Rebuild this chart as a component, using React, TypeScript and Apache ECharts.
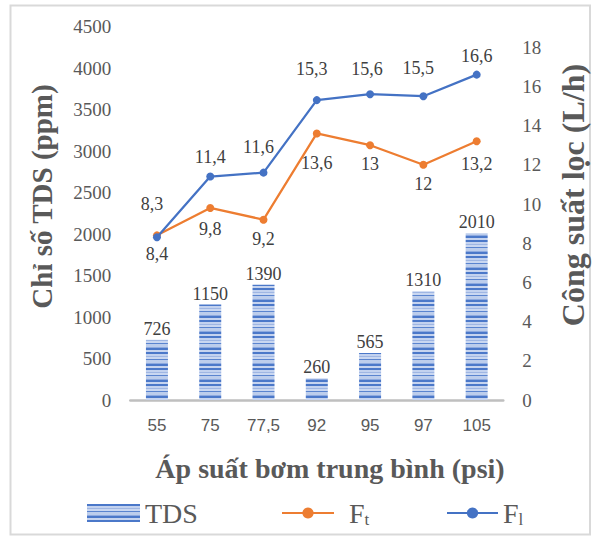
import React, { useEffect, useRef } from "react";
import * as echarts from "echarts";

// ---- data ----
const categories = ["55", "75", "77,5", "92", "95", "97", "105"];
const tdsValues = [726, 1150, 1390, 260, 565, 1310, 2010];
const ftValues = [8.4, 9.8, 9.2, 13.6, 13, 12, 13.2];
const flValues = [8.3, 11.4, 11.6, 15.3, 15.6, 15.5, 16.6];
const leftAxisTicks = { min: 0, max: 4500, interval: 500 };
const rightAxisTicks = { min: 0, max: 18, interval: 2 };
const seriesNames = ["TDS", "Ft", "Fl"];

// ---- style-only tweaks (label nudges, like the reference) ----
const flLabelNudge = [[-5, -14], [0, -1], [-5, -7], [-5, -12], [-3, -6], [-5, -9], [0, 0]];
const ftLabelNudge = [[0, 0], [0, 2], [0, 0], [0, 11], [0, 0], [0, 0], [0, 4]];

const SERIF = "Liberation Serif";
const SANS = "Liberation Sans";
const GREY = "#595959";
const LABEL = "#404040";
const BLUE = "#4472C4";
const ORANGE = "#ED7D31";

const fmt = (v: number) => String(v).replace(".", ",");

// striped texture for the bars (global vertical gradient with hard edges)
function stripeFill() {
  const cycle: [string, number][] = [
    ["#4b78c9", 2], ["#c3d2ef", 2], ["#9fb6e3", 1], ["#c9d7f1", 2],
    ["#5a84cf", 1], ["#bccdec", 3], ["#8eaadf", 1], ["#4b78c9", 2], ["#c6d4ef", 2],
  ];
  const H = 540;
  const stops: { offset: number; color: string }[] = [];
  let y = 0;
  let i = 0;
  while (y < H) {
    const [c, h] = cycle[i % cycle.length];
    const y2 = Math.min(H, y + h);
    stops.push({ offset: y / H, color: c });
    stops.push({ offset: y2 / H, color: c });
    y = y2;
    i++;
  }
  return new echarts.graphic.LinearGradient(0, 0, 0, H, stops, true);
}

export default function App() {
  const ref = useRef<HTMLDivElement>(null);

  useEffect(() => {
    if (!ref.current) return;
    const chart = echarts.init(ref.current, undefined, { renderer: "svg" });

    const gridTop = 26.5;
    const gridBottomY = 400;
    const pxPerRightUnit = 19.6;
    const rightMax = (gridBottomY - gridTop) / pxPerRightUnit;

    const legendText = {
      fontFamily: SERIF,
      fontSize: 28,
      color: GREY,
      lineHeight: 30,
      rich: {
        n: { fontFamily: SERIF, fontSize: 28, color: GREY, lineHeight: 30 },
        s: { fontFamily: SERIF, fontSize: 17, color: GREY, lineHeight: 16, verticalAlign: "bottom" },
        g: { width: 10, fontFamily: SERIF, fontSize: 28, lineHeight: 30 },
      },
    };

    chart.setOption({
      animation: false,
      backgroundColor: "#ffffff",
      textStyle: { fontFamily: SERIF },
      grid: { left: 130.3, right: 93.7, top: gridTop, bottom: 540 - gridBottomY, containLabel: false },
      xAxis: {
        type: "category",
        data: categories,
        axisTick: { show: false },
        axisLine: { lineStyle: { color: "#bfbfbf", width: 2.5 } },
        axisLabel: { color: GREY, fontFamily: SANS, fontSize: 17, margin: 17 },
      },
      yAxis: [
        {
          type: "value",
          min: leftAxisTicks.min,
          max: leftAxisTicks.max,
          interval: leftAxisTicks.interval,
          axisLine: { show: false },
          axisTick: { show: false },
          splitLine: { show: false },
          axisLabel: {
            color: GREY,
            fontFamily: SERIF,
            fontSize: 19,
            margin: 19,
            formatter: (v: number) => String(v),
          },
        },
        {
          type: "value",
          position: "right",
          min: rightAxisTicks.min,
          max: rightMax,
          interval: rightAxisTicks.interval,
          axisLine: { show: false },
          axisTick: { show: false },
          splitLine: { show: false },
          axisLabel: {
            color: GREY,
            fontFamily: SERIF,
            fontSize: 19,
            margin: 19,
            showMaxLabel: false,
            formatter: (v: number) =>
              v <= rightAxisTicks.max + 1e-6 &&
              Math.abs(v / rightAxisTicks.interval - Math.round(v / rightAxisTicks.interval)) < 1e-6
                ? String(Math.round(v))
                : "",
          },
        },
      ],
      legend: [
        {
          data: [{ name: seriesNames[0], icon: "rect", textStyle: legendText }],
          left: 87,
          top: 498,
          padding: 0,
          itemWidth: 53,
          itemHeight: 18,
          formatter: () => "{n|TDS}",
          textStyle: legendText,
        },
        {
          data: [{ name: seriesNames[1], textStyle: legendText }],
          left: 281,
          top: 498,
          padding: 0,
          itemWidth: 52,
          itemHeight: 14,
          formatter: () => "{g| }{n|F}{s|t}",
          textStyle: legendText,
        },
        {
          data: [{ name: seriesNames[2], textStyle: legendText }],
          left: 446,
          top: 498,
          padding: 0,
          itemWidth: 51,
          itemHeight: 14,
          formatter: () => "{n|F}{s|l}",
          textStyle: legendText,
        },
      ],
      series: [
        {
          name: seriesNames[0],
          type: "bar",
          yAxisIndex: 0,
          data: tdsValues,
          barWidth: 22,
          itemStyle: { color: stripeFill() },
          label: {
            show: true,
            position: "top",
            distance: 2,
            color: LABEL,
            fontFamily: SERIF,
            fontSize: 18,
          },
          z: 2,
        },
        {
          name: seriesNames[1],
          type: "line",
          yAxisIndex: 1,
          data: ftValues.map((v, i) => ({
            value: v,
            label: { offset: ftLabelNudge[i] },
          })),
          symbol: "circle",
          symbolSize: 8,
          itemStyle: { color: ORANGE },
          lineStyle: { color: ORANGE, width: 2.25 },
          label: {
            show: true,
            position: "bottom",
            distance: 6,
            color: LABEL,
            fontFamily: SERIF,
            fontSize: 18,
            formatter: (p: any) => fmt(p.value),
          },
          z: 3,
        },
        {
          name: seriesNames[2],
          type: "line",
          yAxisIndex: 1,
          data: flValues.map((v, i) => ({
            value: v,
            label: { offset: flLabelNudge[i] },
          })),
          symbol: "circle",
          symbolSize: 8,
          itemStyle: { color: BLUE },
          lineStyle: { color: BLUE, width: 2.25 },
          label: {
            show: true,
            position: "top",
            distance: 6,
            color: LABEL,
            fontFamily: SERIF,
            fontSize: 18,
            formatter: (p: any) => fmt(p.value),
          },
          z: 4,
        },
      ],
      graphic: [
        {
          type: "rect",
          shape: { x: 10.5, y: 5.5, width: 579.5, height: 529 },
          style: { fill: "none", stroke: "#d9d9d9", lineWidth: 2 },
          silent: true,
        },
        {
          type: "text",
          x: 42,
          y: 196.5,
          rotation: Math.PI / 2,
          style: {
            text: "Chỉ số TDS (ppm)",
            fontFamily: SERIF,
            fontWeight: "bold",
            fontSize: 29,
            fill: GREY,
            align: "center",
            verticalAlign: "middle",
          },
        },
        {
          type: "text",
          x: 573,
          y: 195,
          rotation: Math.PI / 2,
          style: {
            text: "Công suất lọc (L/h)",
            fontFamily: SERIF,
            fontWeight: "bold",
            fontSize: 32,
            fill: GREY,
            align: "center",
            verticalAlign: "middle",
          },
        },
        {
          type: "text",
          x: 330,
          y: 468.5,
          style: {
            text: "Áp suất bơm trung bình (psi)",
            fontFamily: SERIF,
            fontWeight: "bold",
            fontSize: 28,
            fill: GREY,
            align: "center",
            verticalAlign: "middle",
          },
        },
      ],
    });

    return () => chart.dispose();
  }, []);

  return (
    <div
      ref={ref}
      style={{ position: "fixed", left: 0, top: 0, width: 597, height: 540, background: "#fff" }}
    />
  );
}
